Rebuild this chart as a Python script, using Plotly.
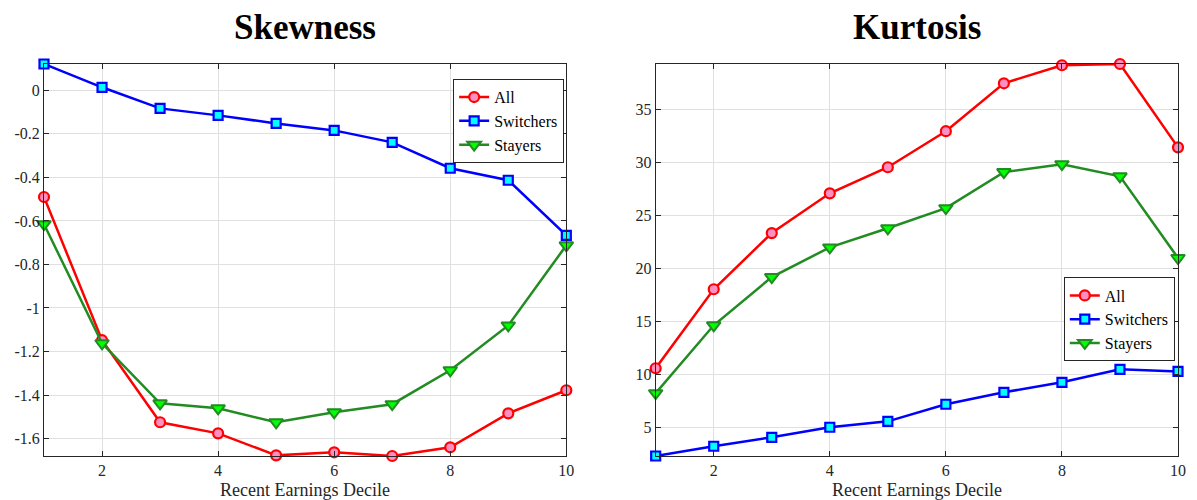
import plotly.graph_objects as go

# Recent earnings deciles
deciles = [1, 2, 3, 4, 5, 6, 7, 8, 9, 10]

# Skewness by group
skew_all = [-0.49, -1.148, -1.525, -1.576, -1.677, -1.663, -1.68, -1.64, -1.484, -1.378]
skew_switchers = [0.121, 0.014, -0.083, -0.115, -0.152, -0.184, -0.239, -0.358, -0.413, -0.666]
skew_stayers = [-0.615, -1.162, -1.438, -1.461, -1.525, -1.479, -1.442, -1.286, -1.08, -0.712]

# Kurtosis by group
kurt_all = [10.6, 18.05, 23.35, 27.1, 29.56, 32.96, 37.48, 39.18, 39.3, 31.44]
kurt_switchers = [2.32, 3.24, 4.08, 5.03, 5.59, 7.2, 8.33, 9.27, 10.5, 10.3]
kurt_stayers = [8.25, 14.65, 19.2, 22.0, 23.8, 25.7, 29.1, 29.85, 28.7, 21.0]

# Tick labels
x_ticks = [2, 4, 6, 8, 10]
skew_ticks = [0, -0.2, -0.4, -0.6, -0.8, -1, -1.2, -1.4, -1.6]
skew_ticktext = ["0", "-0.2", "-0.4", "-0.6", "-0.8", "-1", "-1.2", "-1.4", "-1.6"]
kurt_ticks = [5, 10, 15, 20, 25, 30, 35]
kurt_ticktext = ["5", "10", "15", "20", "25", "30", "35"]

FONT = "Liberation Serif"
AX = "#262626"
GRID = "#e0e0e0"

styles = {
    "All": dict(line=dict(color="#ff0000", width=2.5),
                marker=dict(symbol="circle", size=10, color="#ff8fc0",
                            line=dict(color="#ff0000", width=2.2))),
    "Switchers": dict(line=dict(color="#0000ff", width=2.5),
                      marker=dict(symbol="square", size=9, color="#00ffff",
                                  line=dict(color="#0000ff", width=2.2))),
    "Stayers": dict(line=dict(color="#228b22", width=2.5),
                    marker=dict(symbol="triangle-down", size=12, color="#00ff00",
                                line=dict(color="#228b22", width=2))),
}

fig = go.Figure()

panels = [
    ("x", "y", "legend", [("All", skew_all), ("Switchers", skew_switchers), ("Stayers", skew_stayers)]),
    ("x2", "y2", "legend2", [("All", kurt_all), ("Switchers", kurt_switchers), ("Stayers", kurt_stayers)]),
]
for xa, ya, lg, series in panels:
    for name, vals in series:
        fig.add_trace(go.Scatter(
            x=deciles, y=vals, name=name, mode="lines+markers",
            xaxis=xa, yaxis=ya, legend=lg, cliponaxis=False,
            **styles[name]))

axis_common = dict(
    showline=True, linecolor=AX, linewidth=1, mirror="ticks",
    ticks="inside", ticklen=5, tickcolor=AX, tickwidth=1,
    showgrid=True, gridcolor=GRID, gridwidth=1, zeroline=False,
    tickfont=dict(family=FONT, size=16, color=AX),
)

legend_common = dict(xanchor="left", yanchor="top", bgcolor="white",
                     bordercolor=AX, borderwidth=1,
                     font=dict(family=FONT, size=16, color="black"),
                     tracegroupgap=0, itemwidth=30)

title_font = dict(family=FONT, size=35, color="black")
xlabel_font = dict(family=FONT, size=18, color=AX)

fig.update_layout(
    width=1197, height=500,
    margin=dict(l=44, r=11, t=64, b=44),
    paper_bgcolor="white", plot_bgcolor="white",
    font=dict(family=FONT, color=AX),
    xaxis=dict(domain=[0, 0.4606], range=[1, 10], tickvals=x_ticks, **axis_common),
    yaxis=dict(range=[-1.68, 0.121], tickvals=skew_ticks, ticktext=skew_ticktext, **axis_common),
    xaxis2=dict(domain=[0.5394, 1], range=[1, 10], tickvals=x_ticks, anchor="y2", **axis_common),
    yaxis2=dict(range=[2.32, 39.3], tickvals=kurt_ticks, ticktext=kurt_ticktext, anchor="x2", **axis_common),
    legend=dict(x=0.3608, y=0.9614, **legend_common),
    legend2=dict(x=0.8993, y=0.4554, **legend_common),
    showlegend=True,
    annotations=[
        dict(text="<b>Skewness</b>", x=0.2303, y=1.0, xref="paper", yref="paper",
             xanchor="center", yanchor="middle", yshift=37, showarrow=False, font=title_font),
        dict(text="<b>Kurtosis</b>", x=0.7697, y=1.0, xref="paper", yref="paper",
             xanchor="center", yanchor="middle", yshift=37, showarrow=False, font=title_font),
        dict(text="Recent Earnings Decile", x=0.2303, y=0, xref="paper", yref="paper",
             xanchor="center", yanchor="middle", yshift=-34, showarrow=False, font=xlabel_font),
        dict(text="Recent Earnings Decile", x=0.7697, y=0, xref="paper", yref="paper",
             xanchor="center", yanchor="middle", yshift=-34, showarrow=False, font=xlabel_font),
    ],
)

fig.write_html("out.html")
